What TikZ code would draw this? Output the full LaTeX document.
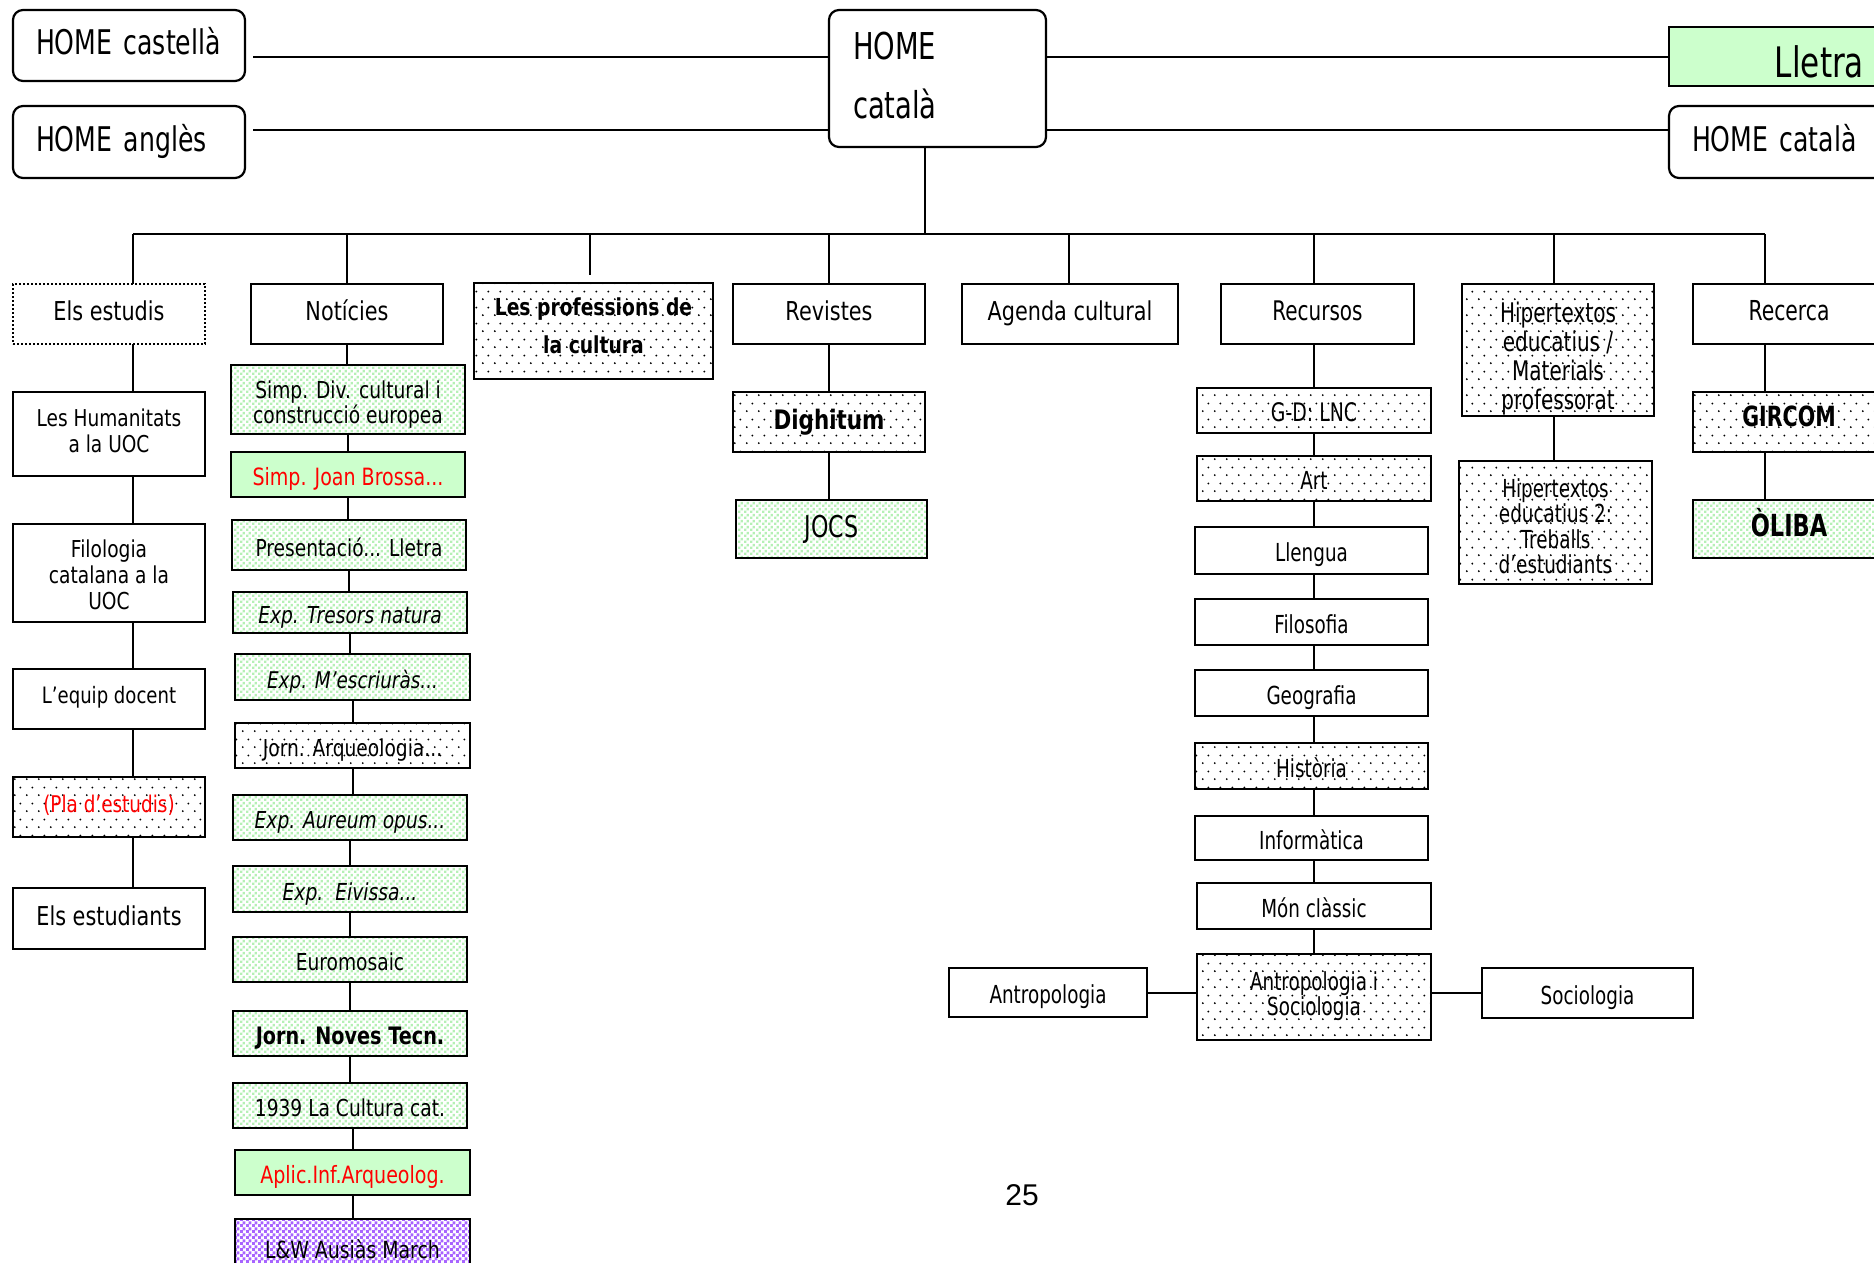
\documentclass[tikz,border=0pt]{standalone}
\usepackage{fontspec}
\setmainfont{DejaVu Sans}
\newfontfamily\fA[FakeStretch=0.8]{DejaVu Sans}
\newfontfamily\fB[FakeStretch=0.74]{DejaVu Sans}
\newfontfamily\fC{Liberation Sans}
\usetikzlibrary{patterns}
\pgfdeclarepatternformonly{bdots}{\pgfqpoint{0pt}{0pt}}{\pgfqpoint{12pt}{16pt}}{\pgfqpoint{12pt}{16pt}}{%
  \pgfpathcircle{\pgfqpoint{3pt}{4pt}}{1.1pt}%
  \pgfpathcircle{\pgfqpoint{9pt}{12pt}}{1.1pt}%
  \pgfusepath{fill}}
\pgfdeclarepatternformonly{cdots}{\pgfqpoint{0pt}{0pt}}{\pgfqpoint{6pt}{6pt}}{\pgfqpoint{6pt}{6pt}}{%
  \pgfpathrectangle{\pgfqpoint{0pt}{0pt}}{\pgfqpoint{2.8pt}{2.8pt}}%
  \pgfpathrectangle{\pgfqpoint{3pt}{3pt}}{\pgfqpoint{2.8pt}{2.8pt}}%
  \pgfusepath{fill}}
\pgfdeclarepatternformonly{pdots}{\pgfqpoint{0pt}{0pt}}{\pgfqpoint{6pt}{6pt}}{\pgfqpoint{6pt}{6pt}}{%
  \pgfpathrectangle{\pgfqpoint{0pt}{0pt}}{\pgfqpoint{3.3pt}{3.3pt}}%
  \pgfpathrectangle{\pgfqpoint{3pt}{3pt}}{\pgfqpoint{3.3pt}{3.3pt}}%
  \pgfusepath{fill}}
\definecolor{lgreen}{HTML}{CCFFCC}
\definecolor{gdot}{HTML}{B5F0B5}
\definecolor{pdot}{HTML}{A864FF}
\definecolor{myred}{HTML}{FF0000}
\newcommand\fsz[2]{\fontsize{#1}{#2}\selectfont}
\tikzset{
  bx/.style={draw, line width=2.2pt, inner sep=0pt, outer sep=0pt, align=center},
  rbx/.style={bx, rounded corners=10pt},
  dbx/.style={bx, pattern=bdots, pattern color=black},
  gbx/.style={bx, pattern=cdots, pattern color=gdot},
  sgbx/.style={bx, fill=lgreen},
  pbx/.style={bx, pattern=pdots, pattern color=pdot},
  dotbd/.style={bx, dash pattern=on 2pt off 2pt, line width=1.8pt},
  cn/.style={line width=2pt},
  tl/.style={line width=2.8pt},
  sz/.style n args={2}{minimum width=#1, minimum height=#2},
  tb/.style n args={2}{text height=#1, text depth=#2},
  low/.style={text height=22pt, text depth=0pt},
}
\begin{document}
\begin{tikzpicture}[x=1pt,y=-1pt,font=\fA\fsz{26}{30}]
\useasboundingbox (0,0) rectangle (1874,1263);

% top row
\node[rbx, sz={232}{71}, text width=186, align=left, font=\fB\fsz{34}{40}, tb={26pt}{7pt}] (hc) at (129,45.5) {HOME castellà};
\node[rbx, sz={232}{72}, text width=186, align=left, font=\fB\fsz{34}{40}, tb={26pt}{7pt}] (ha) at (129,142) {HOME anglès};
\node[rbx, sz={217}{137}, text width=169, align=left, font=\fB\fsz{37}{59}] (hcat) at (937.5,78.5) {HOME\\català\rule[-7pt]{0pt}{1pt}};
\node[sgbx, line width=2pt, sz={231}{59}, text width=159, align=right, font=\fB\fsz{42}{48}, tb={42pt}{0pt}] (lletra) at (1784.5,56.5) {Lletra};
\node[rbx, sz={231}{72}, text width=185, align=left, font=\fB\fsz{34}{40}, tb={26pt}{7pt}] (hcr) at (1784.5,142) {HOME català};

% level 1
\node[dotbd, sz={192}{60}, tb={19pt}{6pt}] (estudis) at (109,314) {Els estudis};
\node[bx, sz={192}{60}, tb={19pt}{6pt}] (noticies) at (347,314) {Notícies};
\node[dbx, sz={239}{96}, font=\fA\bfseries\fsz{23.4}{38}] (profs) at (593.5,331) {Les professions de\\la cultura\rule[-10pt]{0pt}{1pt}};
\node[bx, sz={192}{60}, tb={19pt}{6pt}] (revistes) at (829,314) {Revistes};
\node[bx, sz={216}{60}, tb={19pt}{6pt}] (agenda) at (1070,314) {Agenda cultural};
\node[bx, sz={193}{60}, font=\fB\fsz{27}{30}, tb={19pt}{6pt}] (recursos) at (1317.5,314) {Recursos};
\node[dbx, sz={192}{132}, font=\fB\fsz{27}{29}] (hiper1) at (1558,350) {\rule{0pt}{37pt}Hipertextos\\educatius /\\Materials\\professorat};
\node[bx, sz={192}{60}, font=\fB\fsz{27.5}{30}, tb={19pt}{6pt}] (recerca) at (1789,314) {Recerca};

% Els estudis column
\node[bx, sz={192}{84}, font=\fA\fsz{23.2}{26}] (hum) at (109,434) {Les Humanitats\\a la UOC\rule[-7pt]{0pt}{1pt}};
\node[bx, sz={192}{98}, font=\fA\fsz{23.3}{26}] (filo) at (109,573) {\rule{0pt}{21pt}Filologia\\catalana a la\\UOC};
\node[bx, sz={192}{60}, font=\fA\fsz{22.6}{26}, tb={17pt}{8pt}] (equip) at (109,699) {L’equip docent};
\node[dbx, sz={192}{60}, font=\fA\fsz{23}{26}, text=myred, tb={17pt}{7pt}] (pla) at (109,807) {(Pla d’estudis)};
\node[bx, sz={192}{61}, tb={19pt}{6pt}] (estudiants) at (109,918.5) {Els estudiants};

% Noticies column
\begin{scope}[font=\fA\fsz{23.3}{25}]
\node[gbx, sz={234}{69}] (n1) at (348,399.5) {\rule{0pt}{28pt}Simp. Div. cultural i\\construcció europea};
\node[sgbx, sz={234}{45}, low, text=myred, font=\fA\fsz{23.8}{25}] (n2) at (348,474.5) {Simp. Joan Brossa...};
\node[gbx, sz={234}{50}, low] (n3) at (349,545) {Presentació... Lletra};
\node[gbx, sz={234}{41}, low, font=\fA\itshape\fsz{23.3}{25}] (n4) at (350,612.5) {Exp. Tresors natura};
\node[gbx, sz={235}{46}, low, font=\fA\itshape\fsz{23}{25}] (n5) at (352.5,677) {Exp. M’escriuràs...};
\node[dbx, sz={235}{45}, low] (n6) at (352.5,745.5) {Jorn. Arqueologia...};
\node[gbx, sz={234}{45}, low, font=\fA\itshape\fsz{23.3}{25}] (n7) at (350,817.5) {Exp. Aureum opus...};
\node[gbx, sz={234}{46}, low, font=\fA\itshape\fsz{23.4}{25}] (n8) at (350,889) {Exp.\ \ Eivissa...};
\node[gbx, sz={234}{45}, low] (n9) at (350,959.5) {Euromosaic};
\node[gbx, sz={234}{45}, low, font=\fA\bfseries\fsz{24}{25}] (n10) at (350,1033.5) {Jorn. Noves Tecn.};
\node[gbx, sz={234}{45}, low] (n11) at (350,1105.5) {1939 La Cultura cat.};
\node[sgbx, sz={235}{45}, low, text=myred, font=\fA\fsz{23.8}{25}] (n12) at (352.5,1172.5) {Aplic.Inf.Arqueolog.};
\node[pbx, sz={235}{56}, low, font=\fA\fsz{23.6}{25}] (n13) at (352.5,1247) {L\&W Ausiàs March};
\end{scope}

% Revistes column
\node[dbx, sz={192}{60}, font=\fA\bfseries\fsz{26.8}{30}] (dighitum) at (829,422) {Dighitum};
\node[gbx, sz={191}{58}, font=\fB\fsz{30}{32}] (jocs) at (831.5,529) {JOCS};

% Recursos column
\begin{scope}[font=\fB\fsz{24.8}{25.5}]
\node[dbx, sz={234}{45}, low, font=\fB\fsz{25.5}{25.5}] (gd) at (1314,410.5) {G-D: LNC};
\node[dbx, sz={234}{45}, low] (art) at (1314,478.5) {Art};
\node[bx, sz={233}{47}, low] (llengua) at (1311.5,550.5) {Llengua};
\node[bx, sz={233}{46}, low] (filosofia) at (1311.5,622) {Filosofia};
\node[bx, sz={233}{46}, low] (geografia) at (1311.5,693) {Geografia};
\node[dbx, sz={233}{46}, low] (historia) at (1311.5,766) {Història};
\node[bx, sz={233}{44}, low] (informatica) at (1311.5,838) {Informàtica};
\node[bx, sz={234}{46}, low] (monclassic) at (1314,906) {Món clàssic};
\node[dbx, sz={234}{86}, font=\fB\fsz{24.8}{25}] (antsoc) at (1314,997) {Antropologia i\\Sociologia\rule[-6pt]{0pt}{1pt}};
\node[bx, sz={198}{49}, low] (antrop) at (1048,992.5) {Antropologia};
\node[bx, sz={211}{50}, low] (socio) at (1587.5,993) {Sociologia};
\node[dbx, sz={193}{123}] (hiper2) at (1555.5,522.5) {\rule{0pt}{26pt}Hipertextos\\educatius 2:\\Treballs\\d’estudiants};
\end{scope}

% Recerca column
\node[dbx, sz={192}{60}, font=\fB\bfseries\fsz{27.8}{30}, tb={20pt}{12pt}] (gircom) at (1789,422) {GIRCOM};
\node[gbx, sz={192}{58}, font=\fB\bfseries\fsz{30.4}{32}, tb={21pt}{7pt}] (oliba) at (1789,529) {ÒLIBA};

% page number
\node[font=\fC\fsz{30}{36}] (pg) at (1022,1195) {25};

% connectors: top
\coordinate (t1) at (253,57);
\coordinate (t2) at (253,130);
\draw[tl] (t1) -- (t1 -| hcat.west);
\draw[tl] (hcat.east |- t1) -- (t1 -| lletra.west);
\draw[tl] (t2) -- (t2 -| hcat.west);
\draw[tl] (hcat.east |- t2) -- (t2 -| hcr.west);

% bus
\coordinate (bE) at (133,234);
\coordinate (bN) at (347,234);
\coordinate (bP) at (590,234);
\coordinate (bRv) at (829,234);
\coordinate (bA) at (1069,234);
\coordinate (bC) at (925,234);
\coordinate (bRc) at (1314,234);
\coordinate (bH) at (1554,234);
\coordinate (bRe) at (1765,234);
\coordinate (pend) at (590,275);
\draw[cn] (hcat.south -| bC) -- (bC);
\draw[cn] (bE) -- (bRe);
\draw[cn] (bE) -- (bE |- estudis.north);
\draw[cn] (bN) -- (bN |- noticies.north);
\draw[cn] (bP) -- (pend);
\draw[cn] (bRv) -- (bRv |- revistes.north);
\draw[cn] (bA) -- (bA |- agenda.north);
\draw[cn] (bRc) -- (bRc |- recursos.north);
\draw[cn] (bH) -- (bH |- hiper1.north);
\draw[cn] (bRe) -- (bRe |- recerca.north);

% Els estudis column
\draw[cn] (estudis.south -| bE) -- (hum.north -| bE);
\draw[cn] (hum.south -| bE) -- (filo.north -| bE);
\draw[cn] (filo.south -| bE) -- (equip.north -| bE);
\draw[cn] (equip.south -| bE) -- (pla.north -| bE);
\draw[cn] (pla.south -| bE) -- (estudiants.north -| bE);

% Noticies column
\draw[cn] (noticies.south) -- (noticies.south |- n1.north);
\draw[cn] (n1.south) -- (n1.south |- n2.north);
\draw[cn] (n2.south) -- (n2.south |- n3.north);
\draw[cn] (n3.south) -- (n3.south |- n4.north);
\draw[cn] (n4.south) -- (n4.south |- n5.north);
\draw[cn] (n5.south) -- (n5.south |- n6.north);
\draw[cn] (n6.south) -- (n6.south |- n7.north);
\draw[cn] (n7.south) -- (n7.south |- n8.north);
\draw[cn] (n8.south) -- (n8.south |- n9.north);
\draw[cn] (n9.south) -- (n9.south |- n10.north);
\draw[cn] (n10.south) -- (n10.south |- n11.north);
\draw[cn] (n12.north |- n11.south) -- (n12.north);
\draw[cn] (n12.south) -- (n12.south |- n13.north);

% Revistes column
\draw[cn] (revistes.south) -- (dighitum.north);
\draw[cn] (dighitum.south) -- (dighitum.south |- jocs.north);

% Recursos column
\draw[cn] (recursos.south -| bRc) -- (gd.north -| bRc);
\draw[cn] (gd.south -| bRc) -- (art.north -| bRc);
\draw[cn] (art.south -| bRc) -- (llengua.north -| bRc);
\draw[cn] (llengua.south -| bRc) -- (filosofia.north -| bRc);
\draw[cn] (filosofia.south -| bRc) -- (geografia.north -| bRc);
\draw[cn] (geografia.south -| bRc) -- (historia.north -| bRc);
\draw[cn] (historia.south -| bRc) -- (informatica.north -| bRc);
\draw[cn] (informatica.south -| bRc) -- (monclassic.north -| bRc);
\draw[cn] (monclassic.south -| bRc) -- (antsoc.north -| bRc);
\draw[cn] (antrop.east) -- (antrop.east -| antsoc.west);
\draw[cn] (antsoc.east |- socio.west) -- (socio.west);

% Hipertextos and Recerca
\draw[cn] (hiper1.south -| bH) -- (hiper2.north -| bH);
\draw[cn] (recerca.south -| bRe) -- (gircom.north -| bRe);
\draw[cn] (gircom.south -| bRe) -- (oliba.north -| bRe);
\end{tikzpicture}
\end{document}
